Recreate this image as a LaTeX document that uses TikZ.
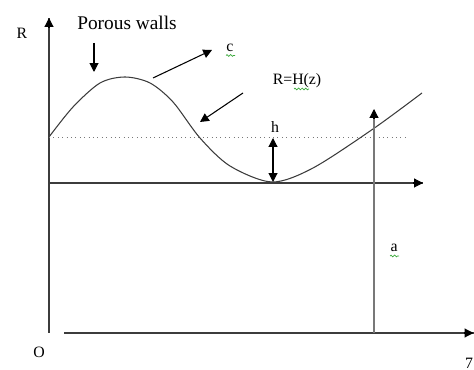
\documentclass[tikz,border=0pt]{standalone}
\usepackage{fontspec}
\setmainfont{Liberation Serif}
\usetikzlibrary{arrows.meta, positioning, calc, decorations.pathmorphing}
\definecolor{inkgray}{RGB}{60,60,60}
\definecolor{midgray}{RGB}{120,120,120}
\definecolor{spellgreen}{RGB}{60,170,60}

\begin{document}
\begin{tikzpicture}[
    >={Triangle[length=5pt,width=5pt]},
    axis/.style={inkgray, line width=0.6pt},
    pointer/.style={->, black, line width=0.6pt},
    lbl/.style={font=\fontsize{9}{10}\selectfont, inner sep=1pt},
    squiggle/.style={spellgreen, line width=0.4pt, decorate,
      decoration={snake, amplitude=0.5pt, segment length=2pt}}]
  \useasboundingbox (0,0) rectangle (9.48,7.4);
  % axes
  \coordinate (O) at (0.98,0.74);
  \coordinate (Rtop) at (0.98,7.04);
  \coordinate (zstart) at (1.28,0.74);
  \coordinate (zend) at (9.47,0.74);
  \draw[axis] (O) -- (Rtop);
  \draw[pointer] ($(Rtop)-(0,0.2)$) -- (Rtop);
  \draw[axis] (zstart) -- (zend);
  \draw[pointer] ($(zend)-(0.2,0)$) -- (zend);
  % mean radius line and its axis
  \coordinate (wstart) at (0.98,3.74);
  \coordinate (wend) at (8.46,3.74);
  \draw[axis] (wstart) -- (wend);
  \draw[pointer] ($(wend)-(0.2,0)$) -- (wend);
  \draw[midgray, dotted, line width=0.5pt] (0.98,4.66) -- (8.10,4.66);
  % wall profile
  \draw[inkgray, line width=0.6pt, smooth, tension=0.5] plot coordinates {
    (0.98,4.66)(1.46,5.26)(2.00,5.74)(2.50,5.86)(3.00,5.74)(3.46,5.36)
    (4.00,4.64)(4.60,4.08)(5.44,3.76)(6.26,4.04)(7.46,4.82)(8.44,5.54)};
  % labels
  \node[lbl] (Rlbl) at (0.44,6.74) {R};
  \node[lbl] (Olbl) at (0.78,0.36) {O};
  \node[lbl, anchor=south, inner sep=0pt] (zlbl) at (9.38,0.03) {7};
  \node[font=\fontsize{11}{12}\selectfont, inner sep=1pt] (walls) at (2.54,6.94) {Porous walls};
  \node[lbl] (Hlbl) at (5.94,5.78) {R=H(z)};
  \node[lbl] (clbl) at (4.60,6.44) {c};
  \node[lbl] (hlbl) at (5.50,4.86) {h};
  \node[lbl] (albl) at (7.88,2.44) {a};
  % pointers
  \coordinate (wallA) at (1.88,6.54);
  \coordinate (wallB) at (1.88,5.96);
  \draw[pointer] (wallA) -- (wallB);
  \coordinate (cA) at (3.06,5.84);
  \coordinate (cB) at (4.24,6.40);
  \draw[pointer] (cA) -- (cB);
  \coordinate (HA) at (4.86,5.54);
  \coordinate (HB) at (4.00,4.96);
  \draw[pointer] (HA) -- (HB);
  \coordinate (hA) at (5.46,4.64);
  \coordinate (hB) at (5.46,3.76);
  \draw[<->, black, line width=0.6pt] (hA) -- (hB);
  \coordinate (aA) at (7.48,0.74);
  \coordinate (aB) at (7.48,5.22);
  \draw[midgray, line width=1pt] (aA) -- ($(aB)-(0,0.15)$);
  \draw[pointer] ($(aB)-(0,0.2)$) -- (aB);
  % spell-check marks
  \draw[squiggle] (4.52,6.29) -- (4.70,6.29);
  \draw[squiggle] (5.88,5.62) -- (6.18,5.62);
  \draw[squiggle] (7.80,2.28) -- (7.98,2.28);
\end{tikzpicture}
\end{document}
